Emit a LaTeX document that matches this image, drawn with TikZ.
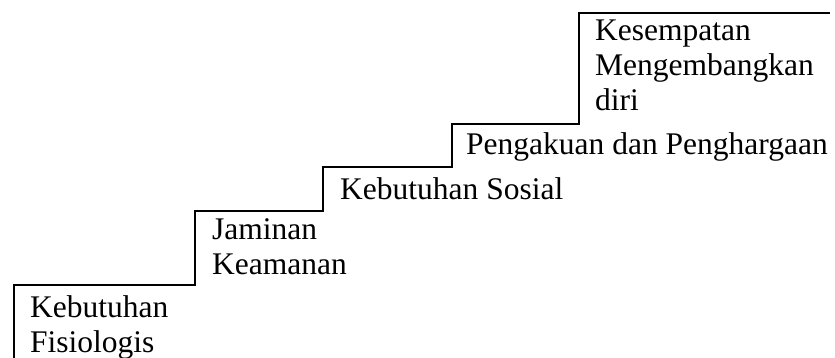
\documentclass[tikz,border=0pt]{standalone}
\usepackage{fontspec}
\setmainfont{Liberation Serif}
\begin{document}
\begin{tikzpicture}[x=1pt,y=-1pt,
  stair/.style={line width=2pt, line join=miter},
  lbl/.style={anchor=base west, inner sep=0pt, font=\fontsize{31.5}{35}\selectfont}]
\useasboundingbox (0,0) rectangle (835,358);
\draw[stair] (14,360) -- (14,285) -- (195,285) -- (195,211) -- (323,211) -- (323,167)
  -- (452,167) -- (452,124) -- (579,124) -- (579,13) -- (830,13);
\node[lbl] (s1a) at (30,317) {Kebutuhan};
\node[lbl] (s1b) at (30,352) {Fisiologis};
\node[lbl] (s2a) at (212,239) {Jaminan};
\node[lbl] (s2b) at (212,274) {Keamanan};
\node[lbl] (s3) at (340,200) {Kebutuhan Sosial};
\node[lbl] (s4) at (466,155) {Pengakuan dan Penghargaan};
\node[lbl] (s5a) at (595,41) {Kesempatan};
\node[lbl] (s5b) at (595,76) {Mengembangkan};
\node[lbl] (s5c) at (595,111) {diri};
\end{tikzpicture}
\end{document}
